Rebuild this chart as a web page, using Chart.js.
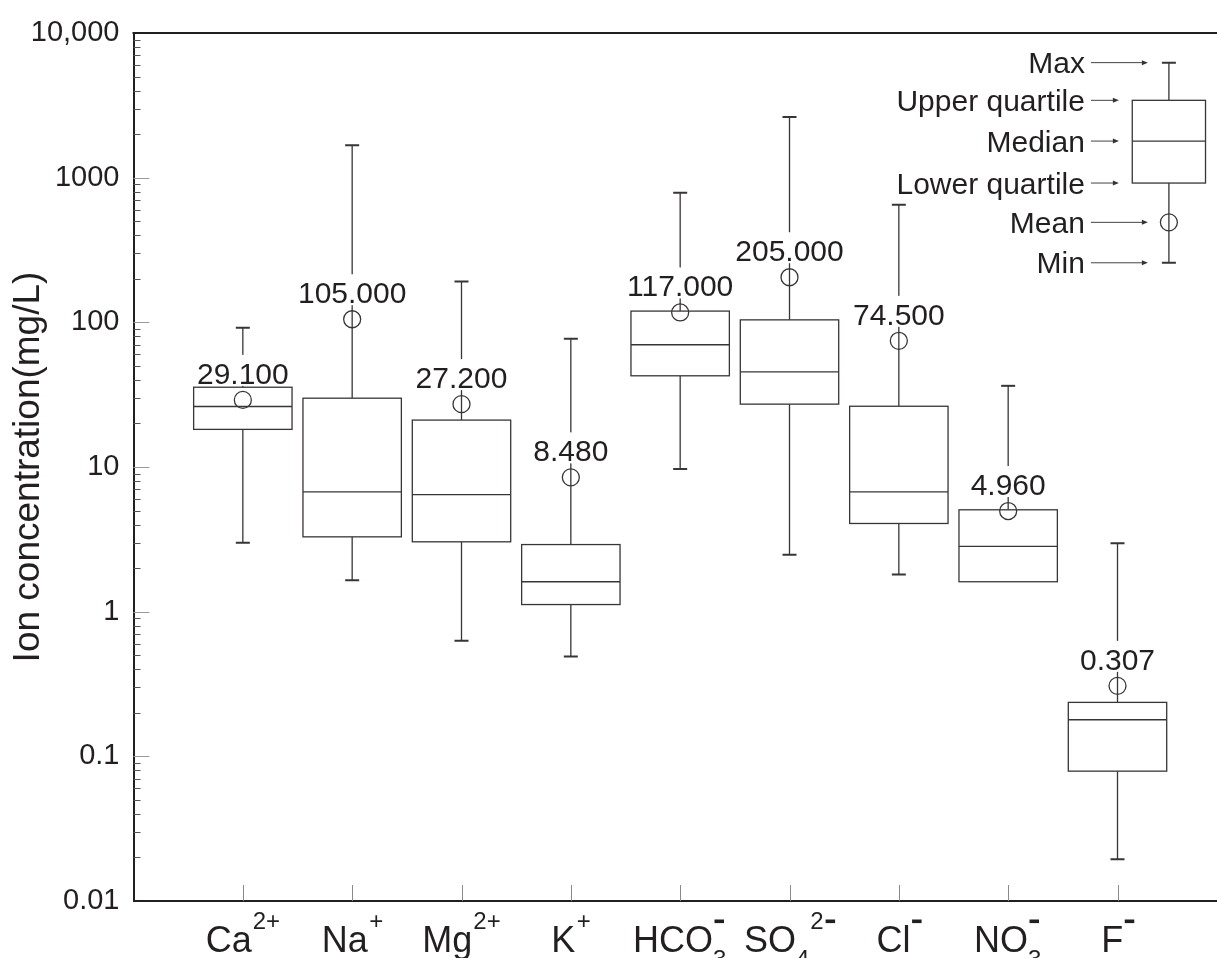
<!DOCTYPE html>
<html>
<head>
<meta charset="utf-8">
<script src="https://cdn.jsdelivr.net/npm/chart.js@4/dist/chart.umd.min.js"></script>
<style>
  html, body { margin: 0; padding: 0; background: #fff; }
  canvas { display: block; }
</style>
</head>
<body>
<canvas id="ionChart" width="1217" height="958"></canvas>
<script>
// Ion statistics (mg/L)
const ionBase = ['Ca', 'Na', 'Mg', 'K', 'HCO', 'SO', 'Cl', 'NO', 'F'];
const ionSub = ['', '', '', '', '3', '4', '', '3', ''];
const ionSup = ['2+', '+', '2+', '+', '-', '2-', '-', '-', '-'];

const minVals = [3.0, 1.65, 0.63, 0.49, 9.7, 2.47, 1.81, 1.61, 0.0194];
const q1Vals = [18.2, 3.29, 3.04, 1.12, 42.7, 27.2, 4.07, 1.61, 0.079];
const medianVals = [26.2, 6.74, 6.45, 1.61, 70, 45.5, 6.74, 2.83, 0.179];
const q3Vals = [35.6, 29.9, 21.1, 2.91, 119.6, 104, 26.3, 5.06, 0.236];
const maxVals = [91.8, 1672, 191.8, 77, 787, 2624, 650, 36.4, 2.97];
const meanVals = [29.1, 105, 27.2, 8.48, 117, 205, 74.5, 4.96, 0.307];

const yTicks = [0.01, 0.1, 1, 10, 100, 1000, 10000];
const yTickLabels = ['0.01', '0.1', '1', '10', '100', '1000', '10,000'];

// explanatory sample box in the corner
const legendX = 9.47;
const legendVals = [258, 918, 1790, 3425, 6240]; // min, q1, median, q3, max
const legendMean = 491;
const legendNames = ['Min', 'Lower quartile', 'Median', 'Upper quartile', 'Max'];

const FONT = '"Liberation Sans", Arial, Helvetica, sans-serif';
const INK = '#231f20';
const LINE = '#3a3535';
const BOX_W = 0.9;
const LEGEND_BOX_W = 0.67;

function drawBox(ctx, x, y, cx, halfW, lo, b1, med, b3, hi) {
    const px = x.getPixelForValue(cx);
    const left = x.getPixelForValue(cx - halfW);
    const right = x.getPixelForValue(cx + halfW);
    const yLo = y.getPixelForValue(lo), y1 = y.getPixelForValue(b1);
    const yM = y.getPixelForValue(med), y3 = y.getPixelForValue(b3);
    const yHi = y.getPixelForValue(hi);
    ctx.strokeStyle = LINE;
    ctx.lineWidth = 1.3;
    // whiskers
    ctx.beginPath();
    if (lo < b1) { ctx.moveTo(px, y1); ctx.lineTo(px, yLo); }
    if (hi > b3) { ctx.moveTo(px, y3); ctx.lineTo(px, yHi); }
    ctx.stroke();
    ctx.lineWidth = 2;
    ctx.beginPath();
    if (lo < b1) { ctx.moveTo(px - 7, yLo); ctx.lineTo(px + 7, yLo); }
    if (hi > b3) { ctx.moveTo(px - 7, yHi); ctx.lineTo(px + 7, yHi); }
    ctx.stroke();
    // box and median
    ctx.lineWidth = 1.3;
    ctx.fillStyle = '#fff';
    ctx.fillRect(left, y3, right - left, y1 - y3);
    ctx.strokeRect(left, y3, right - left, y1 - y3);
    ctx.beginPath();
    ctx.moveTo(left, yM);
    ctx.lineTo(right, yM);
    ctx.stroke();
}

// superscript: digits/plus as text, minus as a short heavy bar
function drawSup(ctx, sup, left, baseY) {
    ctx.font = '24px ' + FONT;
    let txt = sup, minus = false;
    if (sup.endsWith('-')) { txt = sup.slice(0, -1); minus = true; }
    let w = 0;
    if (txt) {
        ctx.fillText(txt, left, baseY);
        w = ctx.measureText(txt).width + 2;
    }
    if (minus) ctx.fillRect(left + w, baseY - 9.5, 9.5, 3.6);
}

function supWidth(ctx, sup) {
    ctx.font = '24px ' + FONT;
    if (sup.endsWith('-')) {
        const t = sup.slice(0, -1);
        return (t ? ctx.measureText(t).width + 2 : 0) + 9.5;
    }
    return ctx.measureText(sup).width;
}

const boxPlugin = {
    id: 'boxes',
    beforeDatasetsDraw(chart) {
        const { ctx, chartArea, scales: { x, y } } = chart;
        ctx.save();

        // top frame line
        ctx.strokeStyle = INK;
        ctx.lineWidth = 2;
        ctx.beginPath();
        ctx.moveTo(chartArea.left - 1, chartArea.top);
        ctx.lineTo(chartArea.right, chartArea.top);
        ctx.stroke();

        // inward y ticks: minor dark, major grey
        ctx.lineWidth = 1;
        for (let d = -2; d < 4; d++) {
            for (let k = 2; k <= 9; k++) {
                const py = Math.round(y.getPixelForValue(k * Math.pow(10, d))) + 0.5;
                ctx.strokeStyle = '#555';
                ctx.beginPath();
                ctx.moveTo(chartArea.left, py);
                ctx.lineTo(chartArea.left + 7, py);
                ctx.stroke();
            }
        }
        yTicks.slice(1, -1).forEach(v => {
            const py = Math.round(y.getPixelForValue(v)) + 0.5;
            ctx.strokeStyle = '#9a9a9a';
            ctx.beginPath();
            ctx.moveTo(chartArea.left, py);
            ctx.lineTo(chartArea.left + 16, py);
            ctx.stroke();
        });

        // inward category ticks
        ctx.strokeStyle = '#8a8a8a';
        ionBase.forEach((_, i) => {
            const px = Math.round(x.getPixelForValue(i + 1)) + 0.5;
            ctx.beginPath();
            ctx.moveTo(px, chartArea.bottom);
            ctx.lineTo(px, chartArea.bottom - 16);
            ctx.stroke();
        });

        ionBase.forEach((_, i) => {
            drawBox(ctx, x, y, i + 1, BOX_W / 2, minVals[i], q1Vals[i], medianVals[i], q3Vals[i], maxVals[i]);
        });
        drawBox(ctx, x, y, legendX, LEGEND_BOX_W / 2, legendVals[0], legendVals[1], legendVals[2], legendVals[3], legendVals[4]);
        ctx.restore();
    },
    afterDatasetsDraw(chart) {
        const { ctx, scales: { x, y } } = chart;
        ctx.save();
        ctx.font = '30px ' + FONT;
        ctx.textAlign = 'center';
        ctx.textBaseline = 'alphabetic';
        meanVals.forEach((m, i) => {
            const px = x.getPixelForValue(i + 1);
            const base = y.getPixelForValue(m) - 16;
            const txt = m.toFixed(3);
            const w = ctx.measureText(txt).width;
            ctx.fillStyle = '#fff';
            ctx.fillRect(px - w / 2 - 2, base - 29, w + 4, 31);
            ctx.fillStyle = INK;
            ctx.fillText(txt, px, base);
        });

        // legend captions and arrows
        const lx = x.getPixelForValue(legendX);
        const items = legendNames.map((n, i) => ({ name: n, v: legendVals[i], short: i >= 1 && i <= 3 }));
        items.push({ name: 'Mean', v: legendMean, short: false });
        ctx.textAlign = 'right';
        items.forEach(it => {
            const py = y.getPixelForValue(it.v);
            ctx.fillStyle = INK;
            ctx.fillText(it.name, lx - 84, py + 10.5);
            const x0 = lx - 78;
            const x1 = it.short ? lx - 50 : lx - 21;
            ctx.strokeStyle = '#444';
            ctx.lineWidth = 1;
            ctx.beginPath();
            ctx.moveTo(x0, py);
            ctx.lineTo(x1 - 5, py);
            ctx.stroke();
            ctx.fillStyle = '#333';
            ctx.beginPath();
            ctx.moveTo(x1, py);
            ctx.lineTo(x1 - 6, py - 2.5);
            ctx.lineTo(x1 - 6, py + 2.5);
            ctx.closePath();
            ctx.fill();
        });
        ctx.restore();
    },
    afterDraw(chart) {
        const { ctx, scales: { x } } = chart;
        ctx.save();
        ctx.fillStyle = INK;
        ctx.textAlign = 'left';
        ctx.textBaseline = 'alphabetic';
        const baseY = 952, supY = 929, subY = 967;
        ionBase.forEach((b, i) => {
            const sub = ionSub[i], sup = ionSup[i];
            ctx.font = '36px ' + FONT;
            const bw = ctx.measureText(b).width;
            ctx.font = '24px ' + FONT;
            const sw = sub ? ctx.measureText(sub).width : 0;
            const pw = supWidth(ctx, sup);
            const stacked = sup.length === 1;
            const total = bw + (stacked ? Math.max(sw, pw) + 1 : sw + pw + 1);
            const left = x.getPixelForValue(i + 1) - total / 2;
            ctx.font = '36px ' + FONT;
            ctx.fillText(b, left, baseY);
            if (sub) {
                ctx.font = '24px ' + FONT;
                ctx.fillText(sub, left + bw, subY);
            }
            drawSup(ctx, sup, left + bw + (stacked ? 1.5 : sw + 1), supY);
        });
        ctx.restore();
    }
};

const meanPoints = meanVals.map((m, i) => ({ x: i + 1, y: m }));
meanPoints.push({ x: legendX, y: legendMean });

new Chart(document.getElementById('ionChart'), {
    type: 'scatter',
    data: {
        datasets: [{
            data: meanPoints,
            pointStyle: 'circle',
            pointRadius: 8.5,
            pointHoverRadius: 8.5,
            pointBackgroundColor: 'rgba(0,0,0,0)',
            pointBorderColor: LINE,
            pointBorderWidth: 1.3
        }]
    },
    options: {
        responsive: false,
        animation: false,
        layout: { autoPadding: false, padding: { top: 33, right: 0, left: 0, bottom: 0 } },
        plugins: { legend: { display: false }, tooltip: { enabled: false } },
        scales: {
            x: {
                type: 'linear',
                min: 0,
                max: 9.91,
                ticks: { display: false },
                grid: { display: false, drawTicks: false },
                border: { display: true, color: INK, width: 2 },
                afterFit: s => { s.height = 57; }
            },
            y: {
                type: 'logarithmic',
                min: 0.01,
                max: 10000,
                afterBuildTicks: s => { s.ticks = yTicks.map(v => ({ value: v })); },
                afterFit: s => { s.width = 133.5; },
                ticks: {
                    callback: (v, i) => yTickLabels[i],
                    font: { family: FONT, size: 29 },
                    color: INK,
                    padding: 14
                },
                grid: { display: false, drawTicks: false },
                border: { display: true, color: INK, width: 2 },
                title: {
                    display: true,
                    text: 'Ion concentration(mg/L)',
                    font: { family: FONT, size: 37 },
                    color: INK,
                    padding: { top: 7, bottom: 0 }
                }
            }
        }
    },
    plugins: [boxPlugin]
});
</script>
</body>
</html>
